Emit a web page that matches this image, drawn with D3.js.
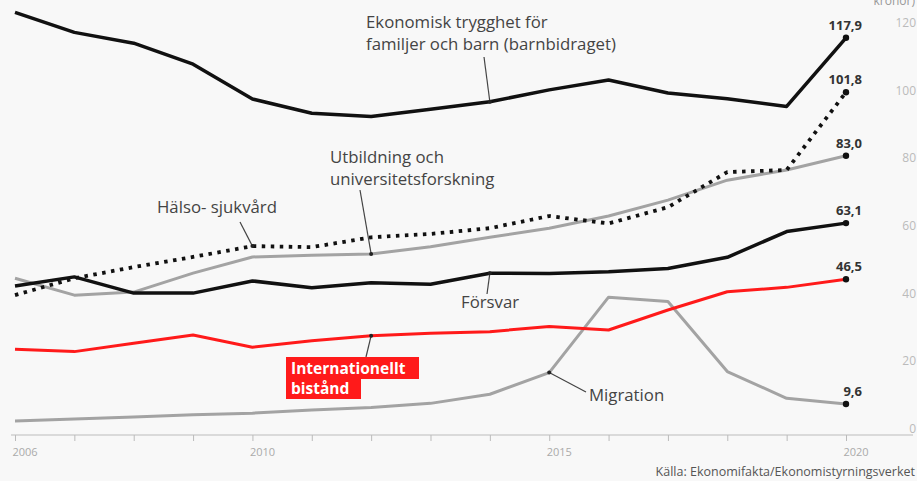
<!DOCTYPE html>
<html>
<head>
<meta charset="utf-8">
<title>Utgiftsområden</title>
<script src="https://d3js.org/d3.v7.min.js"></script>
<style>
  body { margin: 0; background: #f8f8f8; }
  svg { display: block; font-family: "Open Sans", sans-serif; }
  .lbl { fill: #444; font-size: 16.8px; }
  .val { fill: #333; font-size: 13px; font-weight: bold; }
</style>
</head>
<body>
<script>
// miljarder kronor, 2006-2020
var years = [2006,2007,2008,2009,2010,2011,2012,2013,2014,2015,2016,2017,2018,2019,2020];
var yearLabels = [2006, 2010, 2015, 2020];
var yTicks = [0, 20, 40, 60, 80, 100, 120];

var barnbidrag = [125.4,119.5,116.3,110.1,99.8,95.6,94.6,96.8,99.0,102.5,105.4,101.6,99.9,97.6,117.9];
var halso      = [41.8,46.8,50.1,53.1,56.3,56.0,58.9,59.9,61.6,65.2,63.0,67.8,78.2,78.8,101.8];
var utbildning = [46.8,41.8,42.7,48.3,53.1,53.6,54.0,56.1,58.9,61.6,65.2,69.9,75.8,78.8,83.0];
var forsvar    = [44.5,47.2,42.4,42.4,46.0,44.0,45.5,45.0,48.3,48.2,48.7,49.7,53.0,60.6,63.1];
var bistand    = [25.8,25.1,27.6,30.0,26.4,28.3,29.8,30.5,31.0,32.5,31.5,37.4,42.8,44.1,46.5];
var migration  = [4.6,5.2,5.8,6.4,6.9,7.8,8.6,9.8,12.5,18.9,41.2,39.9,19.2,11.3,9.6];

const w = 917, h = 481;
const svg = d3.select("body").append("svg").attr("width", w).attr("height", h);

const x = d3.scaleLinear().domain([2006, 2020]).range([15, 846]);
const y = d3.scaleLinear().domain([0, 120]).range([436.5, 30.7]);

// y labels on the right
svg.append("g")
   .attr("transform", "translate(916,0)")
   .call(d3.axisRight(y).tickValues(yTicks).tickSize(0).tickFormat(d3.format("d")))
   .call(g => g.select(".domain").remove())
   .selectAll("text")
     .attr("text-anchor", "end").attr("x", 0).attr("dy", "-0.35em")
     .attr("fill", "#bbb").style("font-size", "12px").style("font-family", "Open Sans");

svg.append("text").attr("x", 915).attr("y", 5).attr("text-anchor", "end")
   .attr("fill", "#999").style("font-size", "12px").text("kronor)");

// x axis
svg.append("line").attr("x1", 11).attr("x2", 913).attr("y1", 435).attr("y2", 435)
   .attr("stroke", "#bbb").attr("stroke-width", 1.2);
svg.append("g")
   .attr("transform", "translate(0,435)")
   .call(d3.axisBottom(x).tickValues(years).tickSize(6).tickSizeOuter(0)
           .tickFormat(d => yearLabels.includes(d) ? d : ""))
   .call(g => g.select(".domain").remove())
   .call(g => g.selectAll("line").attr("stroke", "#bbb"))
   .selectAll("text")
     .attr("text-anchor", "start").attr("dx", -3).attr("y", 13)
     .attr("fill", "#aaa").style("font-size", "11px").style("font-family", "Open Sans");

svg.append("text").attr("x", 915).attr("y", 476).attr("text-anchor", "end")
   .attr("fill", "#555").style("font-size", "12.5px").text("Källa: Ekonomifakta/Ekonomistyrningsverket");

const line = d3.line().x((d, i) => x(years[i])).y(d => y(d));

const series = [
  {vals: migration,  color: "#a3a3a3", width: 3},
  {vals: utbildning, color: "#a3a3a3", width: 3},
  {vals: forsvar,    color: "#111",    width: 3.5},
  {vals: bistand,    color: "#ff1a1a", width: 3},
  {vals: halso,      color: "#111",    width: 3.8, dash: "3.5,5.5"},
  {vals: barnbidrag, color: "#111",    width: 3.5}
];
series.forEach(s => {
  svg.append("path").datum(s.vals).attr("d", line)
     .attr("fill", "none").attr("stroke", s.color).attr("stroke-width", s.width)
     .attr("stroke-linejoin", "round")
     .attr("stroke-dasharray", s.dash || null);
});

// end values
const last = years.length - 1;
series.forEach(s => {
  const v = s.vals[last];
  svg.append("circle").attr("cx", x(years[last])).attr("cy", y(v)).attr("r", 3.2).attr("fill", "#111");
  svg.append("text").attr("class", "val").attr("x", 862).attr("y", y(v) - 8)
     .attr("text-anchor", "end").text(d3.format(".1f")(v).replace(".", ","));
});

// annotations
function leader(yr, vals, x2, y2) {
  const px = x(yr), py = y(vals[years.indexOf(yr)]);
  svg.append("line").attr("x1", px).attr("y1", py).attr("x2", x2).attr("y2", y2)
     .attr("stroke", "#444").attr("stroke-width", 1.2);
  svg.append("circle").attr("cx", px).attr("cy", py).attr("r", 2).attr("fill", "#222");
}
leader(2014, barnbidrag, 484, 57);
leader(2010, halso, 240, 222);
leader(2012, utbildning, 360, 190);
leader(2014, forsvar, 487, 294);
leader(2012, bistand, 366, 357);
leader(2015, migration, 586, 392);

function label(lines, lx, ly) {
  const t = svg.append("text").attr("class", "lbl").attr("x", lx).attr("y", ly);
  lines.forEach((l, i) => t.append("tspan").attr("x", lx).attr("dy", i ? 22 : 0).text(l));
}
label(["Ekonomisk trygghet för", "familjer och barn (barnbidraget)"], 366, 28);
label(["Utbildning och", "universitetsforskning"], 330, 163);
label(["Hälso- sjukvård"], 157, 213);
label(["Försvar"], 461, 308);
label(["Migration"], 589, 401);

// red box label
svg.append("rect").attr("x", 286).attr("y", 357).attr("width", 133).attr("height", 22).attr("fill", "#ff1a1a");
svg.append("rect").attr("x", 286).attr("y", 378).attr("width", 75).attr("height", 21).attr("fill", "#ff1a1a");
const bt = svg.append("text").attr("x", 291).attr("y", 374).attr("fill", "#fff")
   .style("font-size", "15.5px").style("font-weight", "bold");
bt.append("tspan").attr("x", 291).text("Internationellt");
bt.append("tspan").attr("x", 291).attr("dy", 20).text("bistånd");
</script>
</body>
</html>
